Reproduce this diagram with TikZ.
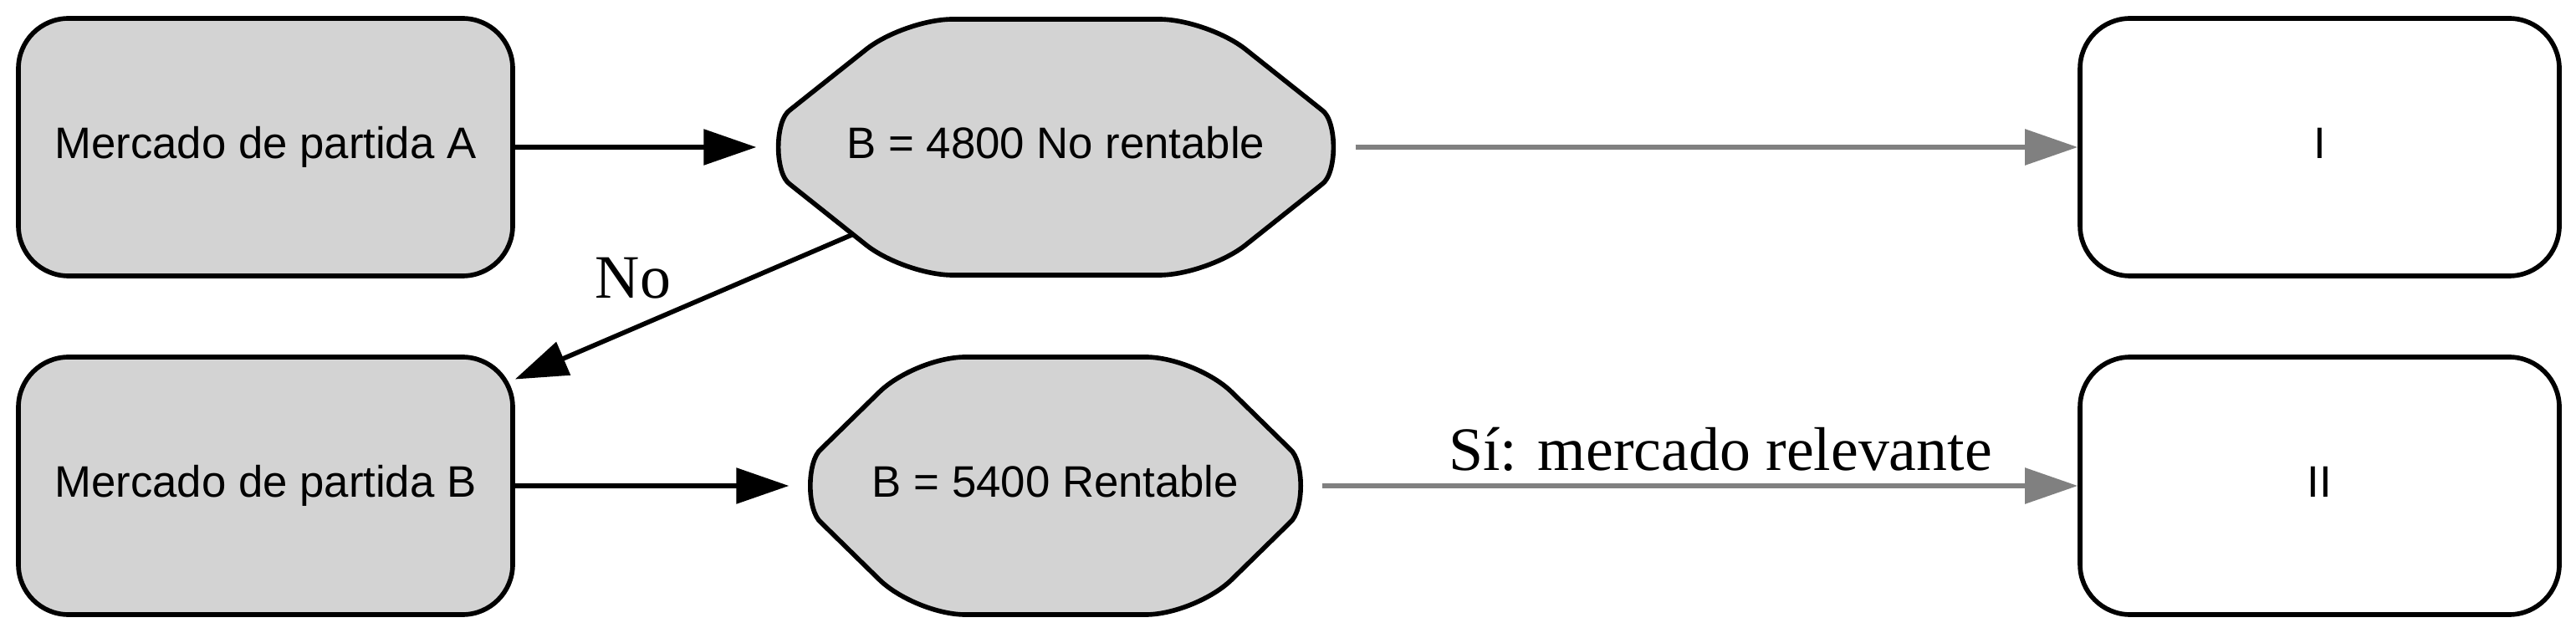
\documentclass[tikz,border=0pt]{standalone}
\usepackage{fontspec}
\setmainfont{Liberation Serif}
\newfontfamily\arialfont{Liberation Sans}
\usetikzlibrary{arrows.meta}

\definecolor{gris}{HTML}{D3D3D3}
\definecolor{grisflecha}{HTML}{808080}

\tikzset{
  caja/.style={draw, line width=1.6pt, rounded corners=0.6cm, minimum width=5.91cm,
    minimum height=3.08cm, inner sep=0pt, font=\arialfont\fontsize{15}{18}\selectfont,
    text height=11pt, text depth=3.2pt},
  octa/.style={draw, line width=1.6pt, fill=gris},
  textoocta/.style={inner sep=0pt, minimum height=2.06cm, font=\arialfont\fontsize{15}{18}\selectfont,
    text height=11pt, text depth=3.2pt},
  etiqueta/.style={inner sep=0pt, font=\fontsize{21}{25}\selectfont},
  flecha/.style={line width=1.6pt, -{Triangle[length=6.3mm,width=4.2mm]}}
}

\begin{document}
\begin{tikzpicture}

\useasboundingbox (0,0) rectangle (30.8,7.56);

%draws the two octagons behind their texts
\draw[octa, shift={(12.625,5.80)}] (0,1.53) -- (-1.235,1.53)
  .. controls (-1.554,1.53) and (-2.019,1.368) .. (-2.269,1.169)
  -- (-3.179,0.445) .. controls (-3.365,0.32) and (-3.365,-0.32) .. (-3.179,-0.445)
  -- (-2.269,-1.169) .. controls (-2.019,-1.368) and (-1.554,-1.53) .. (-1.235,-1.53)
  -- (1.235,-1.53) .. controls (1.554,-1.53) and (2.019,-1.368) .. (2.269,-1.169)
  -- (3.179,-0.445) .. controls (3.365,-0.32) and (3.365,0.32) .. (3.179,0.445)
  -- (2.269,1.169) .. controls (2.019,1.368) and (1.554,1.53) .. (1.235,1.53) -- cycle;
\draw[octa, shift={(12.62,1.75)}] (0,1.54) -- (-1.08,1.54)
  .. controls (-1.41,1.54) and (-1.873,1.351) .. (-2.108,1.12)
  -- (-2.802,0.44) .. controls (-2.975,0.30) and (-2.975,-0.30) .. (-2.802,-0.44)
  -- (-2.108,-1.12) .. controls (-1.873,-1.351) and (-1.41,-1.54) .. (-1.08,-1.54)
  -- (1.08,-1.54) .. controls (1.41,-1.54) and (1.873,-1.351) .. (2.108,-1.12)
  -- (2.802,-0.44) .. controls (2.975,-0.30) and (2.975,0.30) .. (2.802,0.44)
  -- (2.108,1.12) .. controls (1.873,1.351) and (1.41,1.54) .. (1.08,1.54) -- cycle;

%boxes
\node[caja, fill=gris] (mercadoA) at (3.175,5.80) {Mercado de partida A};
\node[caja, fill=gris] (mercadoB) at (3.175,1.75) {Mercado de partida B};
\node[caja, fill=white, minimum width=5.73cm] (casoI) at (27.735,5.80) {I};
\node[caja, fill=white, minimum width=5.73cm] (casoII) at (27.735,1.75) {II};

%texts of the octagons
\node[textoocta, minimum width=7.15cm] (beneficioA) at (12.625,5.80) {B = 4800 No rentable};
\node[textoocta, minimum width=6.36cm] (beneficioB) at (12.62,1.75) {B = 5400 Rentable};

%arrows
\draw[flecha] (mercadoA) -- (beneficioA);
\draw[flecha] (mercadoB) -- (beneficioB);
\draw[flecha] (beneficioA) -- (mercadoB);
\draw[flecha, color=grisflecha] (beneficioA) -- (casoI);
\draw[flecha, color=grisflecha] (beneficioB) -- (casoII);

%labels of the arrows
\node[etiqueta, anchor=base] (etiqNo) at (7.57,3.99) {No};
\node[etiqueta, anchor=base] (etiqSi) at (20.57,1.94) {Sí: mercado relevante};

\end{tikzpicture}
\end{document}
